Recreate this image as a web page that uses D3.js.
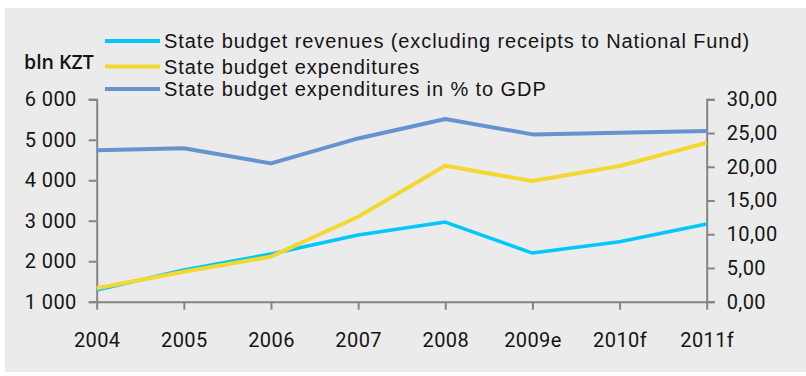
<!DOCTYPE html>
<html>
<head>
<meta charset="utf-8">
<script src="https://cdn.jsdelivr.net/npm/d3@7"></script>
<style>
  html, body { margin: 0; padding: 0; background: #ffffff; }
  svg { display: block; }
</style>
</head>
<body>
<svg id="chart" width="806" height="376"></svg>
<script>
// Years on the horizontal axis
const years = ["2004", "2005", "2006", "2007", "2008", "2009e", "2010f", "2011f"];

// bln KZT (left axis)
const revenues = [1289, 1783, 2178, 2647, 2968, 2202, 2481, 2918];
const expenditures = [1331, 1741, 2112, 3099, 4358, 3980, 4351, 4926];

// % to GDP (right axis)
const expendituresGdp = [22.44, 22.74, 20.5, 24.2, 27.08, 24.8, 25.05, 25.3];

// Tick values
const leftTicks = [1000, 2000, 3000, 4000, 5000, 6000];
const rightTicks = [0, 5, 10, 15, 20, 25, 30];

// Legend entries
const seriesNames = [
  "State budget revenues (excluding receipts to National Fund)",
  "State budget expenditures",
  "State budget expenditures in % to GDP"
];
const seriesColors = ["#00c8fa", "#f3d832", "#6593d0"];
const axisTitle = "bln KZT";

const svg = d3.select("#chart");
const axisColor = "#858585";
const textColor = "#141414";

// Panel background
svg.append("rect")
  .attr("x", 5).attr("y", 8)
  .attr("width", 801).attr("height", 364)
  .attr("fill", "#ebebeb");

const plotLeft = 96.7, plotRight = 706.7, plotTop = 99.3, plotBottom = 301.7;

const x = d3.scalePoint().domain(years).range([plotLeft, plotRight]);
const yL = d3.scaleLinear().domain([1000, 6000]).range([plotBottom, plotTop]);
const yR = d3.scaleLinear().domain([0, 30]).range([plotBottom, plotTop]);

const locale = d3.formatLocale({ decimal: ",", thousands: " ", grouping: [3], currency: ["", ""] });
const fmtL = locale.format(",d");
const fmtR = locale.format(".2f");

const tickFont = "Roboto, 'Open Sans', sans-serif";

function styleAxis(g) {
  g.selectAll("path.domain").attr("stroke", axisColor).attr("stroke-width", 2);
  g.selectAll(".tick line").attr("stroke", axisColor).attr("stroke-width", 2);
  g.selectAll(".tick text")
    .attr("fill", textColor)
    .attr("font-family", tickFont)
    .attr("font-size", 20)
    .attr("letter-spacing", 0.4);
}

// Left axis
svg.append("g")
  .attr("transform", `translate(${plotLeft},0)`)
  .call(d3.axisLeft(yL).tickValues(leftTicks).tickFormat(fmtL).tickSize(8).tickPadding(12))
  .call(styleAxis);

// Right axis
svg.append("g")
  .attr("transform", `translate(${plotRight},0)`)
  .call(d3.axisRight(yR).tickValues(rightTicks).tickFormat(fmtR).tickSize(8).tickPadding(12))
  .call(styleAxis);

// Bottom axis
svg.append("g")
  .attr("transform", `translate(0,${plotBottom})`)
  .call(d3.axisBottom(x).tickSize(8).tickSizeOuter(0).tickPadding(23))
  .call(styleAxis);

// Lines
const series = [
  { values: revenues, scale: yL, color: seriesColors[0], width: 3.5 },
  { values: expenditures, scale: yL, color: seriesColors[1], width: 4 },
  { values: expendituresGdp, scale: yR, color: seriesColors[2], width: 4 }
];
series.forEach(s => {
  const line = d3.line()
    .x((d, i) => x(years[i]))
    .y(d => s.scale(d));
  svg.append("path")
    .datum(s.values)
    .attr("d", line)
    .attr("fill", "none")
    .attr("stroke", s.color)
    .attr("stroke-width", s.width)
    .attr("stroke-linejoin", "round");
});

// Axis title
svg.append("text")
  .attr("x", 24).attr("y", 69)
  .attr("font-family", "'Open Sans', sans-serif")
  .attr("font-weight", 600)
  .attr("font-size", 19.5)
  .attr("fill", textColor)
  .text(axisTitle);

// Legend
const legendRowsY = [41, 66.5, 89];
const legend = svg.append("g");
const legendTexts = [];
seriesNames.forEach((name, i) => {
  legend.append("line")
    .attr("x1", 105).attr("x2", 160)
    .attr("y1", legendRowsY[i]).attr("y2", legendRowsY[i])
    .attr("stroke", seriesColors[i])
    .attr("stroke-width", 4);
  const t = legend.append("text")
    .attr("x", 164).attr("y", legendRowsY[i] + 7)
    .attr("font-family", "'Liberation Sans', Arial, sans-serif")
    .attr("font-size", 20)
    .attr("fill", textColor)
    .text(name);
  legendTexts.push(t);
});
// Widen the legend lettering evenly so the first row spans its full width
const natural = legendTexts[0].node().getComputedTextLength();
const spacing = (586 - natural) / seriesNames[0].length;
legendTexts.forEach(t => t.attr("letter-spacing", spacing));
</script>
</body>
</html>
